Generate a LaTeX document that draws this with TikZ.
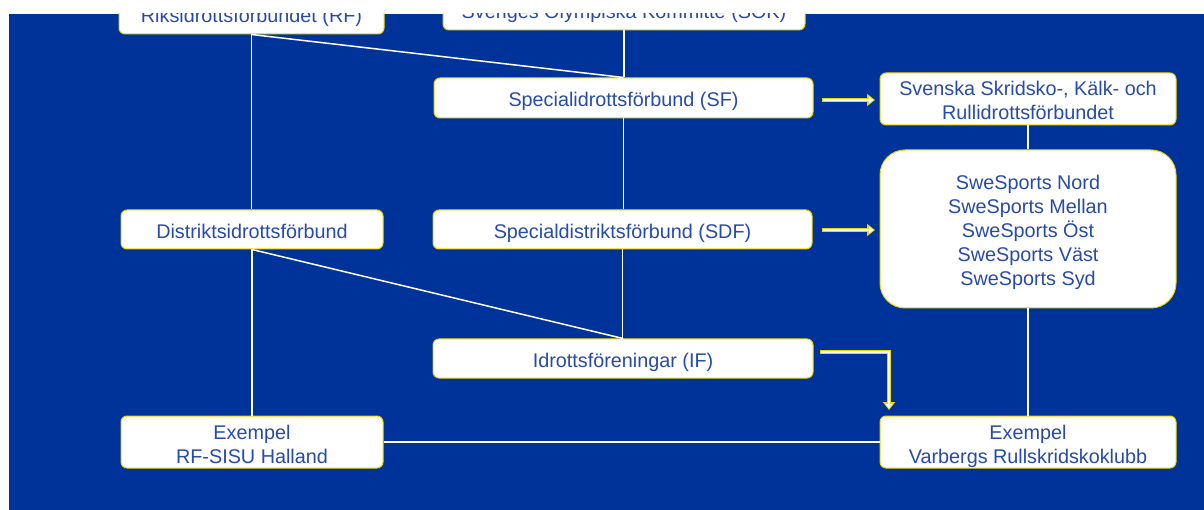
\documentclass[tikz,border=0pt]{standalone}
\usepackage{fontspec}
\setmainfont{Liberation Sans}
\usetikzlibrary{arrows.meta}
\definecolor{bg}{RGB}{0,51,153}
\definecolor{txt}{RGB}{40,75,168}
\definecolor{ylw}{RGB}{235,215,0}
\newcommand{\tp}{\rule{0pt}{23pt}}
\newcommand{\bt}{\rule[-5pt]{0pt}{5pt}}
\tikzset{
  box/.style={draw=ylw, line width=1pt, fill=white, rounded corners=6pt,
    text=txt, font=\fontsize{19.8}{24}\selectfont, align=center, inner sep=0pt},
  link/.style={draw=white, line width=1.5pt},
  yout/.style={draw=ylw, line width=4.6pt, line join=miter, -{Triangle[length=8pt,width=12pt]}},
  yin/.style={draw=white, line width=2.6pt, line join=miter, -{Triangle[length=4.5pt,width=7pt]}}
}
\begin{document}
\begin{tikzpicture}[x=1pt,y=-1pt]
\useasboundingbox (0,0) rectangle (1204,510);
\fill[white] (0,0) rectangle (1204,510);
\begin{scope}
\clip (9,14) rectangle (1204,510);
\fill[bg] (9,14) rectangle (1204,510);
% nodes
\node[box, minimum width=265pt, minimum height=40pt] (rf) at (251.5,14) {\tp Riksidrottsförbundet (RF)\bt};
\node[box, minimum width=362pt, minimum height=40pt] (sok) at (624,10) {\tp Sveriges Olympiska Kommitté (SOK)\bt};
\node[box, minimum width=379pt, minimum height=40pt] (sf) at (623.5,98) {\tp Specialidrottsförbund (SF)\bt};
\node[box, minimum width=296pt, minimum height=52pt] (ssk) at (1028,99) {\tp Svenska Skridsko-, Kälk- och\\Rullidrottsförbundet\bt};
\node[box, rounded corners=25pt, minimum width=296pt, minimum height=158pt] (sws) at (1028,229) {\tp SweSports Nord\\SweSports Mellan\\SweSports Öst\\SweSports Väst\\SweSports Syd\bt};
\node[box, minimum width=262pt, minimum height=39pt] (dist) at (252,229.5) {\tp Distriktsidrottsförbund\bt};
\node[box, minimum width=379pt, minimum height=39pt] (sdf) at (622.5,229.5) {\tp Specialdistriktsförbund (SDF)\bt};
\node[box, minimum width=380pt, minimum height=39pt] (if) at (623,358.5) {\tp Idrottsföreningar (IF)\bt};
\node[box, minimum width=262pt, minimum height=50pt] (ex1) at (252,442) {\tp Exempel\\RF-SISU Halland\bt};
\node[box, minimum width=296pt, minimum height=50pt] (ex2) at (1028,442) {\tp Exempel\\Varbergs Rullskridskoklubb\bt};
% connectors
\draw[link] (rf.south) -- (rf.south |- dist.north);
\draw[link] (dist.south) -- (dist.south |- ex1.north);
\draw[link] (rf.south) -- (sf.north);
\draw[link] (sok.south) -- (sok.south |- sf.north);
\draw[link] (sf.south) -- (sf.south |- sdf.north);
\draw[link] (sdf.south) -- (sdf.south |- if.north);
\draw[link] (dist.south) -- (if.north);
\draw[link] (ssk.south) -- (ssk.south |- sws.north);
\draw[link] (sws.south) -- (sws.south |- ex2.north);
\draw[link] (ex1.east) -- (ex1.east -| ex2.west);
% yellow arrows
\coordinate (a1s) at (822,100);
\coordinate (a1e) at (875,100);
\coordinate (a1w) at (823.3,100);
\coordinate (a1f) at (873.4,100);
\draw[yout] (a1s) -- (a1e);
\draw[yin] (a1w) -- (a1f);
\coordinate (a2s) at (822,230);
\coordinate (a2e) at (875,230);
\coordinate (a2w) at (823.3,230);
\coordinate (a2f) at (873.4,230);
\draw[yout] (a2s) -- (a2e);
\draw[yin] (a2w) -- (a2f);
\coordinate (a3s) at (820,352);
\coordinate (a3e) at (889,410);
\coordinate (a3w) at (821.3,352);
\coordinate (a3f) at (889,408.4);
\draw[yout] (a3s) -| (a3e);
\draw[yin] (a3w) -| (a3f);
\end{scope}
\end{tikzpicture}
\end{document}
